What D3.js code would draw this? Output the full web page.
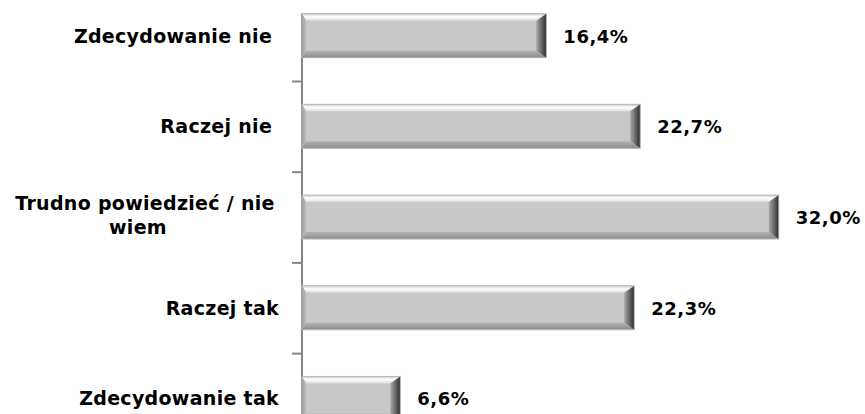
<!DOCTYPE html>
<html>
<head>
  <meta charset="utf-8">
  <title>Odpowiedzi</title>
  <script src="https://cdnjs.cloudflare.com/ajax/libs/d3/7.8.5/d3.min.js"></script>
  <style>
    body { margin: 0; background: #fff; }
    .lbl, .val {
      font-family: "DejaVu Sans", Verdana, sans-serif;
      font-weight: bold;
      fill: #000;
      white-space: pre;
    }
    .lbl { font-size: 19px; letter-spacing: 0.3px; }
    .val { font-size: 18px; letter-spacing: 0.5px; }
    .axis path, .axis line { stroke: #868686; stroke-width: 2; }
  </style>
</head>
<body>
<div id="chart"></div>
<script>
  // data, top to bottom
  var categories = ["Zdecydowanie nie ", "Raczej nie ", "Trudno powiedzieć / nie|wiem", "Raczej tak", "Zdecydowanie tak"];
  var values = [16.4, 22.7, 32.0, 22.3, 6.6];
  var valueLabels = ["16,4%", "22,7%", "32,0%", "22,3%", "6,6%"];

  var width = 865, height = 414;
  var svg = d3.select("#chart").append("svg")
      .attr("width", width)
      .attr("height", height);

  var x = d3.scaleLinear()
      .domain([0, 35])
      .range([302, 302 + 35 * 14.9]);

  var y = d3.scaleBand()
      .domain(categories)
      .range([-9.7, 443.8])
      .paddingInner(0.515)
      .paddingOuter(0.2575);

  var yIdx = d3.scaleLinear()
      .domain([0, categories.length])
      .range(y.range());

  var defs = svg.append("defs");
  var gTop = defs.append("linearGradient").attr("id", "gTop")
      .attr("x1", 0).attr("y1", 0).attr("x2", 0).attr("y2", 1);
  gTop.append("stop").attr("offset", "0%").attr("stop-color", "#cfcfcf");
  gTop.append("stop").attr("offset", "45%").attr("stop-color", "#ffffff");
  gTop.append("stop").attr("offset", "100%").attr("stop-color", "#dcdcdc");
  var gBot = defs.append("linearGradient").attr("id", "gBot")
      .attr("x1", 0).attr("y1", 0).attr("x2", 0).attr("y2", 1);
  gBot.append("stop").attr("offset", "0%").attr("stop-color", "#b4b4b4");
  gBot.append("stop").attr("offset", "100%").attr("stop-color", "#8a8a8a");
  var gRight = defs.append("linearGradient").attr("id", "gRight")
      .attr("x1", 0).attr("y1", 0).attr("x2", 1).attr("y2", 0);
  gRight.append("stop").attr("offset", "0%").attr("stop-color", "#a8a8a8");
  gRight.append("stop").attr("offset", "60%").attr("stop-color", "#5e5e5e");
  gRight.append("stop").attr("offset", "100%").attr("stop-color", "#282828");
  var gLeft = defs.append("linearGradient").attr("id", "gLeft")
      .attr("x1", 0).attr("y1", 0).attr("x2", 1).attr("y2", 0);
  gLeft.append("stop").attr("offset", "0%").attr("stop-color", "#9a9a9a");
  gLeft.append("stop").attr("offset", "100%").attr("stop-color", "#c0c0c0");

  var bevel = 7, bevelR = 10;

  function quad(pts) { return "M" + pts.map(p => p.join(",")).join("L") + "Z"; }

  // axis line starts at the top of the first bar
  svg.append("line")
      .attr("x1", x(0)).attr("x2", x(0))
      .attr("y1", y(categories[0])).attr("y2", yIdx(categories.length))
      .attr("stroke", "#868686").attr("stroke-width", 2);

  svg.append("g")
      .attr("class", "axis")
      .attr("transform", "translate(" + x(0) + ",0)")
      .call(d3.axisLeft(yIdx).tickValues([1, 2, 3, 4]).tickSize(10).tickFormat(""))
      .call(g => g.select(".domain").remove());

  var bars = svg.append("g").selectAll("g.bar")
      .data(categories)
      .enter().append("g")
      .attr("class", "bar");

  bars.each(function (c, i) {
    var g = d3.select(this);
    var x0 = x(0), x1 = x(values[i]), y0 = y(c), y1 = y(c) + y.bandwidth();
    g.append("rect")
        .attr("x", x0).attr("y", y0)
        .attr("width", x1 - x0).attr("height", y1 - y0)
        .attr("fill", "#c8c8c8");
    g.append("path").attr("fill", "url(#gTop)")
        .attr("d", quad([[x0, y0], [x1, y0], [x1 - bevelR, y0 + bevel], [x0 + 4, y0 + bevel]]));
    g.append("path").attr("fill", "url(#gBot)")
        .attr("d", quad([[x0 + 4, y1 - bevel], [x1 - bevelR, y1 - bevel], [x1, y1], [x0, y1]]));
    g.append("path").attr("fill", "url(#gLeft)")
        .attr("d", quad([[x0, y0], [x0 + 4, y0 + bevel], [x0 + 4, y1 - bevel], [x0, y1]]));
    g.append("path").attr("fill", "url(#gRight)")
        .attr("d", quad([[x1 - bevelR, y0 + bevel], [x1, y0], [x1, y1], [x1 - bevelR, y1 - bevel]]));
    g.append("rect")
        .attr("x", x0).attr("y", y0)
        .attr("width", x1 - x0).attr("height", y1 - y0)
        .attr("fill", "none")
        .attr("stroke", "#b8b8b8")
        .attr("stroke-width", 1);
  });

  // category labels
  var lbl = svg.append("g").selectAll("text")
      .data(categories)
      .enter().append("text")
      .attr("class", "lbl")
      .attr("y", d => y(d) + y.bandwidth() / 2 + 7);

  lbl.each(function (d) {
    var t = d3.select(this);
    var lines = d.split("|");
    if (lines.length === 1) {
      t.attr("x", 279).attr("text-anchor", "end").text(d);
    } else {
      t.attr("text-anchor", "middle")
          .attr("y", y(d) + y.bandwidth() / 2 - 7);
      t.selectAll("tspan").data(lines).enter().append("tspan")
          .attr("x", (l, j) => j === 0 ? 145 : 138)
          .attr("dy", (l, j) => j === 0 ? 0 : 24)
          .text(l => l);
    }
  });

  // value labels
  svg.append("g").selectAll("text")
      .data(values)
      .enter().append("text")
      .attr("class", "val")
      .attr("x", (d, i) => x(d) + 17)
      .attr("y", (d, i) => y(categories[i]) + y.bandwidth() / 2 + 7)
      .text((d, i) => valueLabels[i]);
</script>
</body>
</html>
